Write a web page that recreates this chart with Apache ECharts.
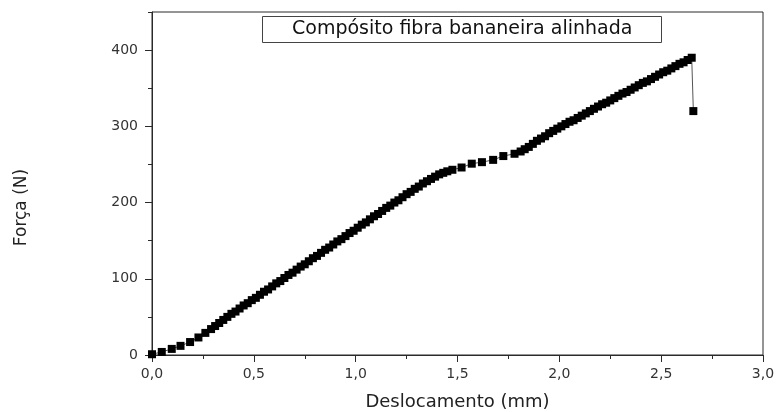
<!DOCTYPE html>
<html>
<head>
<meta charset="utf-8">
<script src="https://cdn.jsdelivr.net/npm/echarts@6/dist/echarts.min.js"></script>
<style>
html,body{margin:0;padding:0;background:#fff;}
#chart{width:776px;height:412px;}
</style>
</head>
<body>
<div id="chart"></div>
<script>
const seriesName = 'Compósito fibra bananeira alinhada';
const xAxisName = 'Deslocamento (mm)';
const yAxisName = 'Força (N)';
const yTickValues = [0, 100, 200, 300, 400];
const xTickLabels = ['0,0', '0,5', '1,0', '1,5', '2,0', '2,5', '3,0'];

const displacement = [
  0.000, 0.048, 0.097, 0.140, 0.187, 0.228, 0.262, 0.290, 0.310, 0.330,
  0.350, 0.370, 0.390, 0.410, 0.430, 0.450, 0.470, 0.490, 0.510, 0.530,
  0.550, 0.570, 0.590, 0.610, 0.630, 0.650, 0.670, 0.690, 0.710, 0.730,
  0.750, 0.770, 0.790, 0.810, 0.830, 0.850, 0.870, 0.890, 0.910, 0.930,
  0.950, 0.970, 0.990, 1.010, 1.030, 1.050, 1.070, 1.090, 1.110, 1.130,
  1.150, 1.170, 1.190, 1.210, 1.230, 1.250, 1.270, 1.290, 1.310, 1.330,
  1.350, 1.370, 1.390, 1.410, 1.430, 1.450, 1.475, 1.520, 1.570, 1.620,
  1.675, 1.725, 1.780, 1.810, 1.830, 1.850, 1.870, 1.890, 1.910, 1.930,
  1.950, 1.970, 1.990, 2.010, 2.030, 2.050, 2.070, 2.090, 2.110, 2.130,
  2.150, 2.170, 2.190, 2.210, 2.230, 2.250, 2.270, 2.290, 2.310, 2.330,
  2.350, 2.370, 2.390, 2.410, 2.430, 2.450, 2.470, 2.490, 2.510, 2.530,
  2.550, 2.570, 2.590, 2.610, 2.630, 2.650, 2.658
];
const force = [
  1, 4, 8, 12, 17, 23, 29, 34, 38, 42,
  46, 50, 54, 57, 61, 65, 68, 72, 75, 79,
  83, 86, 90, 94, 97, 101, 105, 108, 112, 116,
  119, 123, 127, 130, 134, 138, 141, 145, 149, 152,
  156, 160, 163, 167, 171, 174, 178, 182, 185, 189,
  193, 196, 200, 203, 207, 211, 214, 218, 221, 225,
  228, 231, 234, 237, 239, 241, 243, 246, 251, 253,
  256, 261, 264, 267, 270, 273, 277, 281, 284, 287,
  291, 294, 297, 300, 303, 306, 308, 311, 314, 317,
  320, 323, 326, 329, 331, 334, 337, 340, 343, 345,
  348, 351, 354, 357, 359, 362, 365, 368, 371, 373,
  376, 379, 382, 384, 387, 390, 320
];

const FONT = 'DejaVu Sans';
const AX = '#2a2a2a';

const chart = echarts.init(document.getElementById('chart'), null, {renderer: 'canvas'});
chart.setOption({
  animation: false,
  backgroundColor: '#fff',
  title: {
    text: seriesName,
    left: 262,
    top: 16,
    padding: [4, 29, 4, 30],
    borderColor: '#444',
    borderWidth: 1,
    textStyle: {fontFamily: FONT, fontSize: 19, fontWeight: 'normal', color: '#111', lineHeight: 19}
  },
  grid: {
    left: 152, right: 13, top: 12, bottom: 57,
    outerBoundsMode: 'none',
    containLabel: false,
    show: true, borderColor: AX, borderWidth: 1, backgroundColor: 'transparent'
  },
  xAxis: {
    type: 'value',
    min: 0, max: 3, interval: 0.5,
    name: xAxisName,
    nameLocation: 'middle',
    nameGap: 38,
    nameTextStyle: {fontFamily: FONT, fontSize: 18, color: '#222'},
    axisLine: {show: true, onZero: false, lineStyle: {color: AX, width: 1}},
    axisTick: {show: true, inside: false, length: 7, lineStyle: {color: AX}},
    minorTick: {show: true, splitNumber: 2, length: 4, lineStyle: {color: AX}},
    splitLine: {show: false},
    axisLabel: {
      fontFamily: FONT, fontSize: 14, color: '#333', margin: 12,
      formatter: function (v) { return xTickLabels[Math.round(v / 0.5)] || ''; }
    }
  },
  yAxis: [{
    type: 'value',
    min: 0, max: 450,
    position: 'left',
    name: yAxisName,
    nameLocation: 'middle',
    nameGap: 122,
    nameTextStyle: {fontFamily: FONT, fontSize: 17, color: '#222', padding: [0, 48, 0, 0]},
    axisLine: {show: true, onZero: false, lineStyle: {color: AX, width: 1}},
    axisTick: {show: true, inside: false, length: 7, customValues: yTickValues, lineStyle: {color: AX}},
    splitLine: {show: false},
    axisLabel: {
      fontFamily: FONT, fontSize: 14, color: '#333', margin: 14,
      customValues: yTickValues,
      formatter: function (v) { return String(v); }
    }
  }, {
    type: 'value',
    min: 0, max: 450, interval: 50,
    position: 'left',
    offset: 0,
    axisLine: {show: false},
    axisTick: {show: true, inside: false, length: 4, lineStyle: {color: AX}},
    axisLabel: {show: false},
    splitLine: {show: false}
  }],
  series: [{
    name: seriesName,
    type: 'line',
    xAxisIndex: 0,
    yAxisIndex: 0,
    data: displacement.map(function (d, i) { return [d, force[i]]; }),
    symbol: 'rect',
    symbolSize: 8,
    showAllSymbol: true,
    itemStyle: {color: '#000'},
    lineStyle: {color: '#555', width: 1}
  }]
});
</script>
</body>
</html>
